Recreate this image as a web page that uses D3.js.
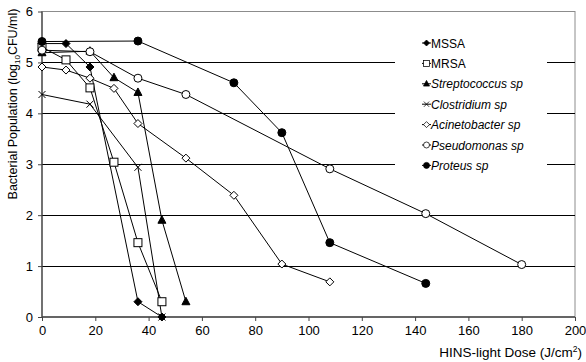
<!DOCTYPE html>
<html>
<head>
<meta charset="utf-8">
<script src="https://cdn.jsdelivr.net/npm/d3@7"></script>
<style>
  body { margin: 0; background: #fff; }
  text { font-family: Arial, "Liberation Sans", sans-serif; fill: #000; }
</style>
</head>
<body>
<svg width="586" height="362"></svg>
<script>
var width = 586;
var height = 362;

// series names and their points (dose J/cm2, log10 CFU/ml)
var seriesNames = ["MSSA", "MRSA", "Streptococcus sp", "Clostridium sp", "Acinetobacter sp", "Pseudomonas sp", "Proteus sp"];
var italicNames = [false, false, true, true, true, true, true];
var markerTypes = ["diamondFilled", "square", "triangle", "cross", "diamondOpen", "circleOpen", "circleFilled"];

var mssaDose = [0, 9, 18, 36, 45];
var mssaPop = [5.37, 5.37, 4.91, 0.30, 0];
var mrsaDose = [0, 9, 18, 27, 36, 45];
var mrsaPop = [5.30, 5.05, 4.50, 3.04, 1.46, 0.30];
var strepDose = [0, 18, 27, 36, 45, 54];
var strepPop = [5.19, 5.22, 4.70, 4.41, 1.90, 0.30];
var clostDose = [0, 18, 36, 45];
var clostPop = [4.37, 4.18, 2.94, 0];
var acinDose = [0, 9, 18, 27, 36, 54, 72, 90, 108];
var acinPop = [4.91, 4.85, 4.69, 4.49, 3.80, 3.12, 2.39, 1.04, 0.69];
var pseudDose = [0, 18, 36, 54, 108, 144, 180];
var pseudPop = [5.24, 5.21, 4.69, 4.37, 2.91, 2.03, 1.03];
var protDose = [0, 36, 72, 90, 108, 144];
var protPop = [5.41, 5.42, 4.60, 3.62, 1.46, 0.66];

var xTicks = [0, 20, 40, 60, 80, 100, 120, 140, 160, 180, 200];
var yTicks = [0, 1, 2, 3, 4, 5, 6];

var allDose = [mssaDose, mrsaDose, strepDose, clostDose, acinDose, pseudDose, protDose];
var allPop = [mssaPop, mrsaPop, strepPop, clostPop, acinPop, pseudPop, protPop];

var series = seriesNames.map(function (name, i) {
  return {
    name: name,
    italic: italicNames[i],
    marker: markerTypes[i],
    points: allDose[i].map(function (d, j) { return { x: d, y: allPop[i][j] }; })
  };
});

var margin = { left: 42, right: 11, top: 11.5, bottom: 45 };

var x = d3.scaleLinear().domain([0, 200]).range([margin.left, width - margin.right]);
var y = d3.scaleLinear().domain([0, 6]).range([height - margin.bottom, margin.top]);

var svg = d3.select("svg");

// frame (gray top + right)
svg.append("rect")
  .attr("x", x(0)).attr("y", y(6))
  .attr("width", x(200) - x(0)).attr("height", y(0) - y(6))
  .attr("fill", "none")
  .attr("stroke", "#8c8c8c")
  .attr("stroke-width", 1);

// gridlines
svg.append("g").selectAll("line")
  .data(yTicks.filter(function (d) { return d > 0 && d < 6; }))
  .enter().append("line")
  .attr("x1", x(0)).attr("x2", x(200))
  .attr("y1", function (d) { return Math.round(y(d)) + 0.5; })
  .attr("y2", function (d) { return Math.round(y(d)) + 0.5; })
  .attr("stroke", "#000")
  .attr("stroke-width", 1);

// legend background (hides gridlines)
var legendX = 395, legendY = 30;
svg.append("rect")
  .attr("x", legendX).attr("y", legendY)
  .attr("width", 152).attr("height", 150)
  .attr("fill", "#fff");

// axes
var xAxis = d3.axisBottom(x).tickValues(xTicks).tickSize(4).tickPadding(5);
var yAxis = d3.axisLeft(y).tickValues(yTicks).tickFormat(d3.format("d")).tickSize(4).tickPadding(5);

var gx = svg.append("g")
  .attr("transform", "translate(0," + y(0) + ")")
  .call(xAxis);
var gy = svg.append("g")
  .attr("transform", "translate(" + x(0) + ",0)")
  .call(yAxis);

[gx, gy].forEach(function (g) {
  g.select(".domain").attr("stroke", "#444").attr("stroke-width", 1.3);
  g.selectAll(".tick line").attr("stroke", "#444");
  g.selectAll("text").attr("font-size", "13px").attr("font-family", "Arial, 'Liberation Sans', sans-serif");
});
gx.select(".domain").attr("d", "M" + x(0) + ",0H" + x(200));
gy.select(".domain").attr("d", "M0," + y(0) + "V" + y(6));

// axis titles
var yTitle = svg.append("text")
  .attr("transform", "translate(17," + 104 + ") rotate(-90)")
  .attr("text-anchor", "middle")
  .attr("font-size", "12.5px");
yTitle.append("tspan").text("Bacterial Population (log");
yTitle.append("tspan").attr("font-size", "8px").attr("dy", 3).text("10");
yTitle.append("tspan").attr("dy", -3).text("CFU/ml)");

var xTitle = svg.append("text")
  .attr("x", 582).attr("y", 357)
  .attr("text-anchor", "end")
  .attr("font-size", "13.5px");
xTitle.append("tspan").text("HINS-light Dose (J/cm");
xTitle.append("tspan").attr("font-size", "8.5px").attr("dy", -5).text("2");
xTitle.append("tspan").attr("dy", 5).text(")");

// marker drawing
function drawMarker(sel, type) {
  if (type === "diamondFilled" || type === "diamondOpen") {
    sel.append("path").attr("d", "M0,-4L4,0L0,4L-4,0Z")
      .attr("fill", type === "diamondFilled" ? "#000" : "#fff")
      .attr("stroke", "#000").attr("stroke-width", 1);
  } else if (type === "square") {
    sel.append("rect").attr("x", -4).attr("y", -4).attr("width", 8).attr("height", 8)
      .attr("fill", "#fff").attr("stroke", "#000").attr("stroke-width", 1);
  } else if (type === "triangle") {
    sel.append("path").attr("d", "M0,-4.5L4,3L-4,3Z")
      .attr("fill", "#000").attr("stroke", "#000").attr("stroke-width", 1);
  } else if (type === "cross") {
    sel.append("path").attr("d", "M-3.5,-3.5L3.5,3.5M-3.5,3.5L3.5,-3.5")
      .attr("fill", "none").attr("stroke", "#000").attr("stroke-width", 1);
  } else if (type === "circleOpen" || type === "circleFilled") {
    sel.append("circle").attr("r", 4)
      .attr("fill", type === "circleFilled" ? "#000" : "#fff")
      .attr("stroke", "#000").attr("stroke-width", 1);
  }
}

var line = d3.line()
  .x(function (d) { return x(d.x); })
  .y(function (d) { return y(d.y); });

var lines = svg.append("g");
series.forEach(function (s) {
  lines.append("path")
    .datum(s.points)
    .attr("d", line)
    .attr("fill", "none")
    .attr("stroke", "#000")
    .attr("stroke-width", 1);
});

var marks = svg.append("g");
series.forEach(function (s) {
  s.points.forEach(function (p) {
    var m = marks.append("g").attr("transform", "translate(" + x(p.x) + "," + y(p.y) + ")");
    drawMarker(m, s.marker);
  });
});

// legend
var legend = svg.append("g");
series.forEach(function (s, i) {
  var ly = 43 + i * 20.4;
  var item = legend.append("g").attr("transform", "translate(426.5," + ly + ")");
  item.append("line").attr("x1", -4.5).attr("x2", 4.5).attr("y1", 0).attr("y2", 0)
    .attr("stroke", "#000").attr("stroke-width", 1);
  var mk = item.append("g").attr("transform", "scale(0.75)");
  drawMarker(mk, s.marker);
  item.append("text")
    .attr("x", 4.5).attr("y", 4.5)
    .attr("font-size", "12px")
    .attr("font-style", s.italic ? "italic" : "normal")
    .text(s.name);
});
</script>
</body>
</html>
